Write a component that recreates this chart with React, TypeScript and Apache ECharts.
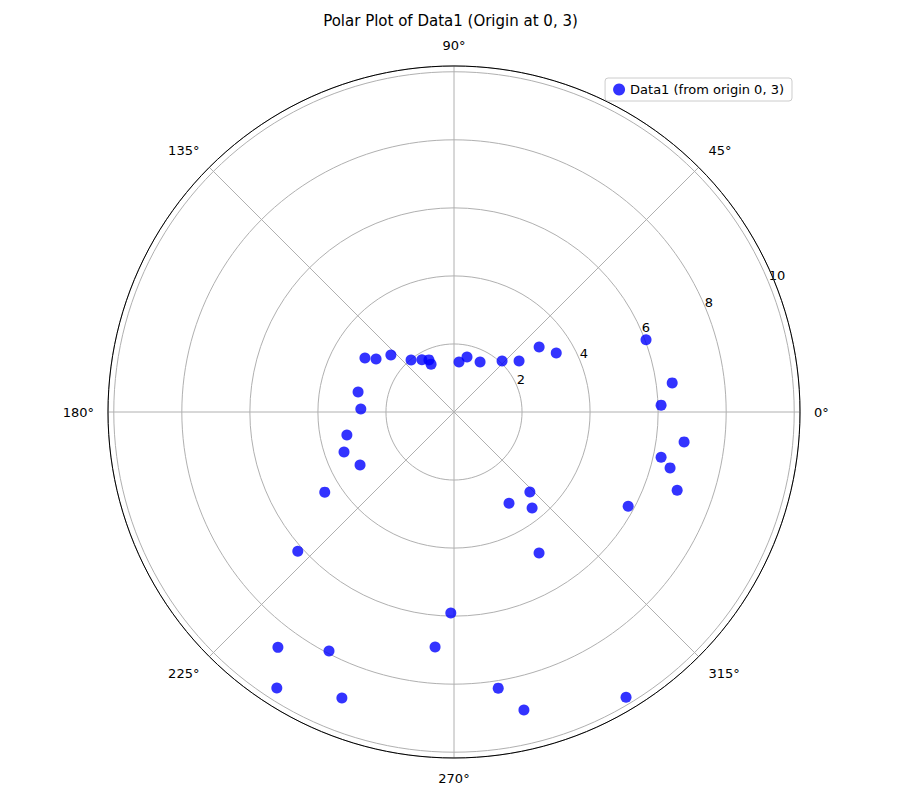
import React, { useEffect, useRef } from "react";
import * as echarts from "echarts";

// [radius, angle in degrees]
const radii = [
  6.03, 6.47, 6.09, 6.82, 6.23, 6.56, 6.95, 5.82, 3.24, 3.13, 3.64, 4.84, 5.91, 6.93,
  8.22, 9.0, 9.79, 7.93, 8.64, 9.64, 9.03, 6.15, 4.47, 3.17, 3.44, 3.22, 2.74, 2.88,
  3.06, 2.77, 2.5, 1.98, 1.8, 1.7, 1.56, 1.48, 1.66, 1.66, 2.06, 2.43, 3.15, 3.47,
];
const angles = [
  20.6, 7.6, 1.9, 352.6, 347.7, 345.5, 340.7, 331.6, 313.5, 301.1, 309.1, 301.1, 269.1, 265.4,
  279.1, 283.2, 301.1, 242.4, 233.2, 237.3, 248.6, 221.7, 211.8, 209.4, 200, 192.1, 178.2, 168.2,
  148.8, 145.8, 137.9, 129.6, 121.6, 115.7, 115.6, 84.3, 76.7, 62.5, 46.7, 38.1, 37.4, 30,
];
const radiusTicks = ["2", "4", "6", "8", "10"];
const radiusTickPos = [
  [521, 379],
  [584, 353],
  [646, 327],
  [709, 302],
  [777, 275],
];

const App = () => {
  const chartRef = useRef(null);

  useEffect(() => {
    document.body.style.margin = "0";
    if (!chartRef.current) return;
    const chart = echarts.init(chartRef.current, null, { renderer: "svg" });
    const font = "DejaVu Sans";
    chart.setOption({
      animation: false,
      textStyle: { fontFamily: font },
      title: {
        text: "Polar Plot of Data1 (Origin at 0, 3)",
        left: "center",
        top: 8,
        textStyle: { fontSize: 15, fontWeight: "normal", color: "#000", fontFamily: font },
      },
      legend: {
        right: 109,
        top: 78,
        orient: "vertical",
        borderColor: "#ccc",
        borderWidth: 1,
        borderRadius: 3,
        padding: [5, 8],
        itemWidth: 12,
        itemHeight: 12,
        textStyle: { fontSize: 13, color: "#000", fontFamily: font },
      },
      polar: { center: [454, 412], radius: 346 },
      angleAxis: {
        type: "value",
        min: 0,
        max: 360,
        interval: 45,
        startAngle: 0,
        clockwise: false,
        axisLine: { lineStyle: { color: "#000", width: 1 } },
        axisTick: { show: false },
        axisLabel: { formatter: "{value}°", color: "#000", fontSize: 13, margin: 14 },
        splitLine: { show: true, lineStyle: { color: "#b0b0b0", width: 1 } },
      },
      radiusAxis: {
        type: "value",
        min: 0,
        max: 10.17,
        interval: 2,
        axisLine: { show: false },
        axisTick: { show: false },
        axisLabel: { show: false },
        splitLine: { show: true, lineStyle: { color: "#b0b0b0", width: 1 } },
      },
      graphic: radiusTicks.map((t, i) => ({
        type: "text",
        x: radiusTickPos[i][0],
        y: radiusTickPos[i][1],
        style: {
          text: t,
          fontSize: 13,
          fill: "#000",
          fontFamily: font,
          textAlign: "center",
          textVerticalAlign: "middle",
        },
      })),
      series: [
        {
          name: "Data1 (from origin 0, 3)",
          type: "scatter",
          coordinateSystem: "polar",
          symbolSize: 11,
          itemStyle: { color: "#0000ff" },
          data: radii.map((r, i) => [r, angles[i]]),
        },
      ],
    });
    return () => chart.dispose();
  }, []);

  return <div ref={chartRef} style={{ width: "901px", height: "791px" }} />;
};

export default App;
